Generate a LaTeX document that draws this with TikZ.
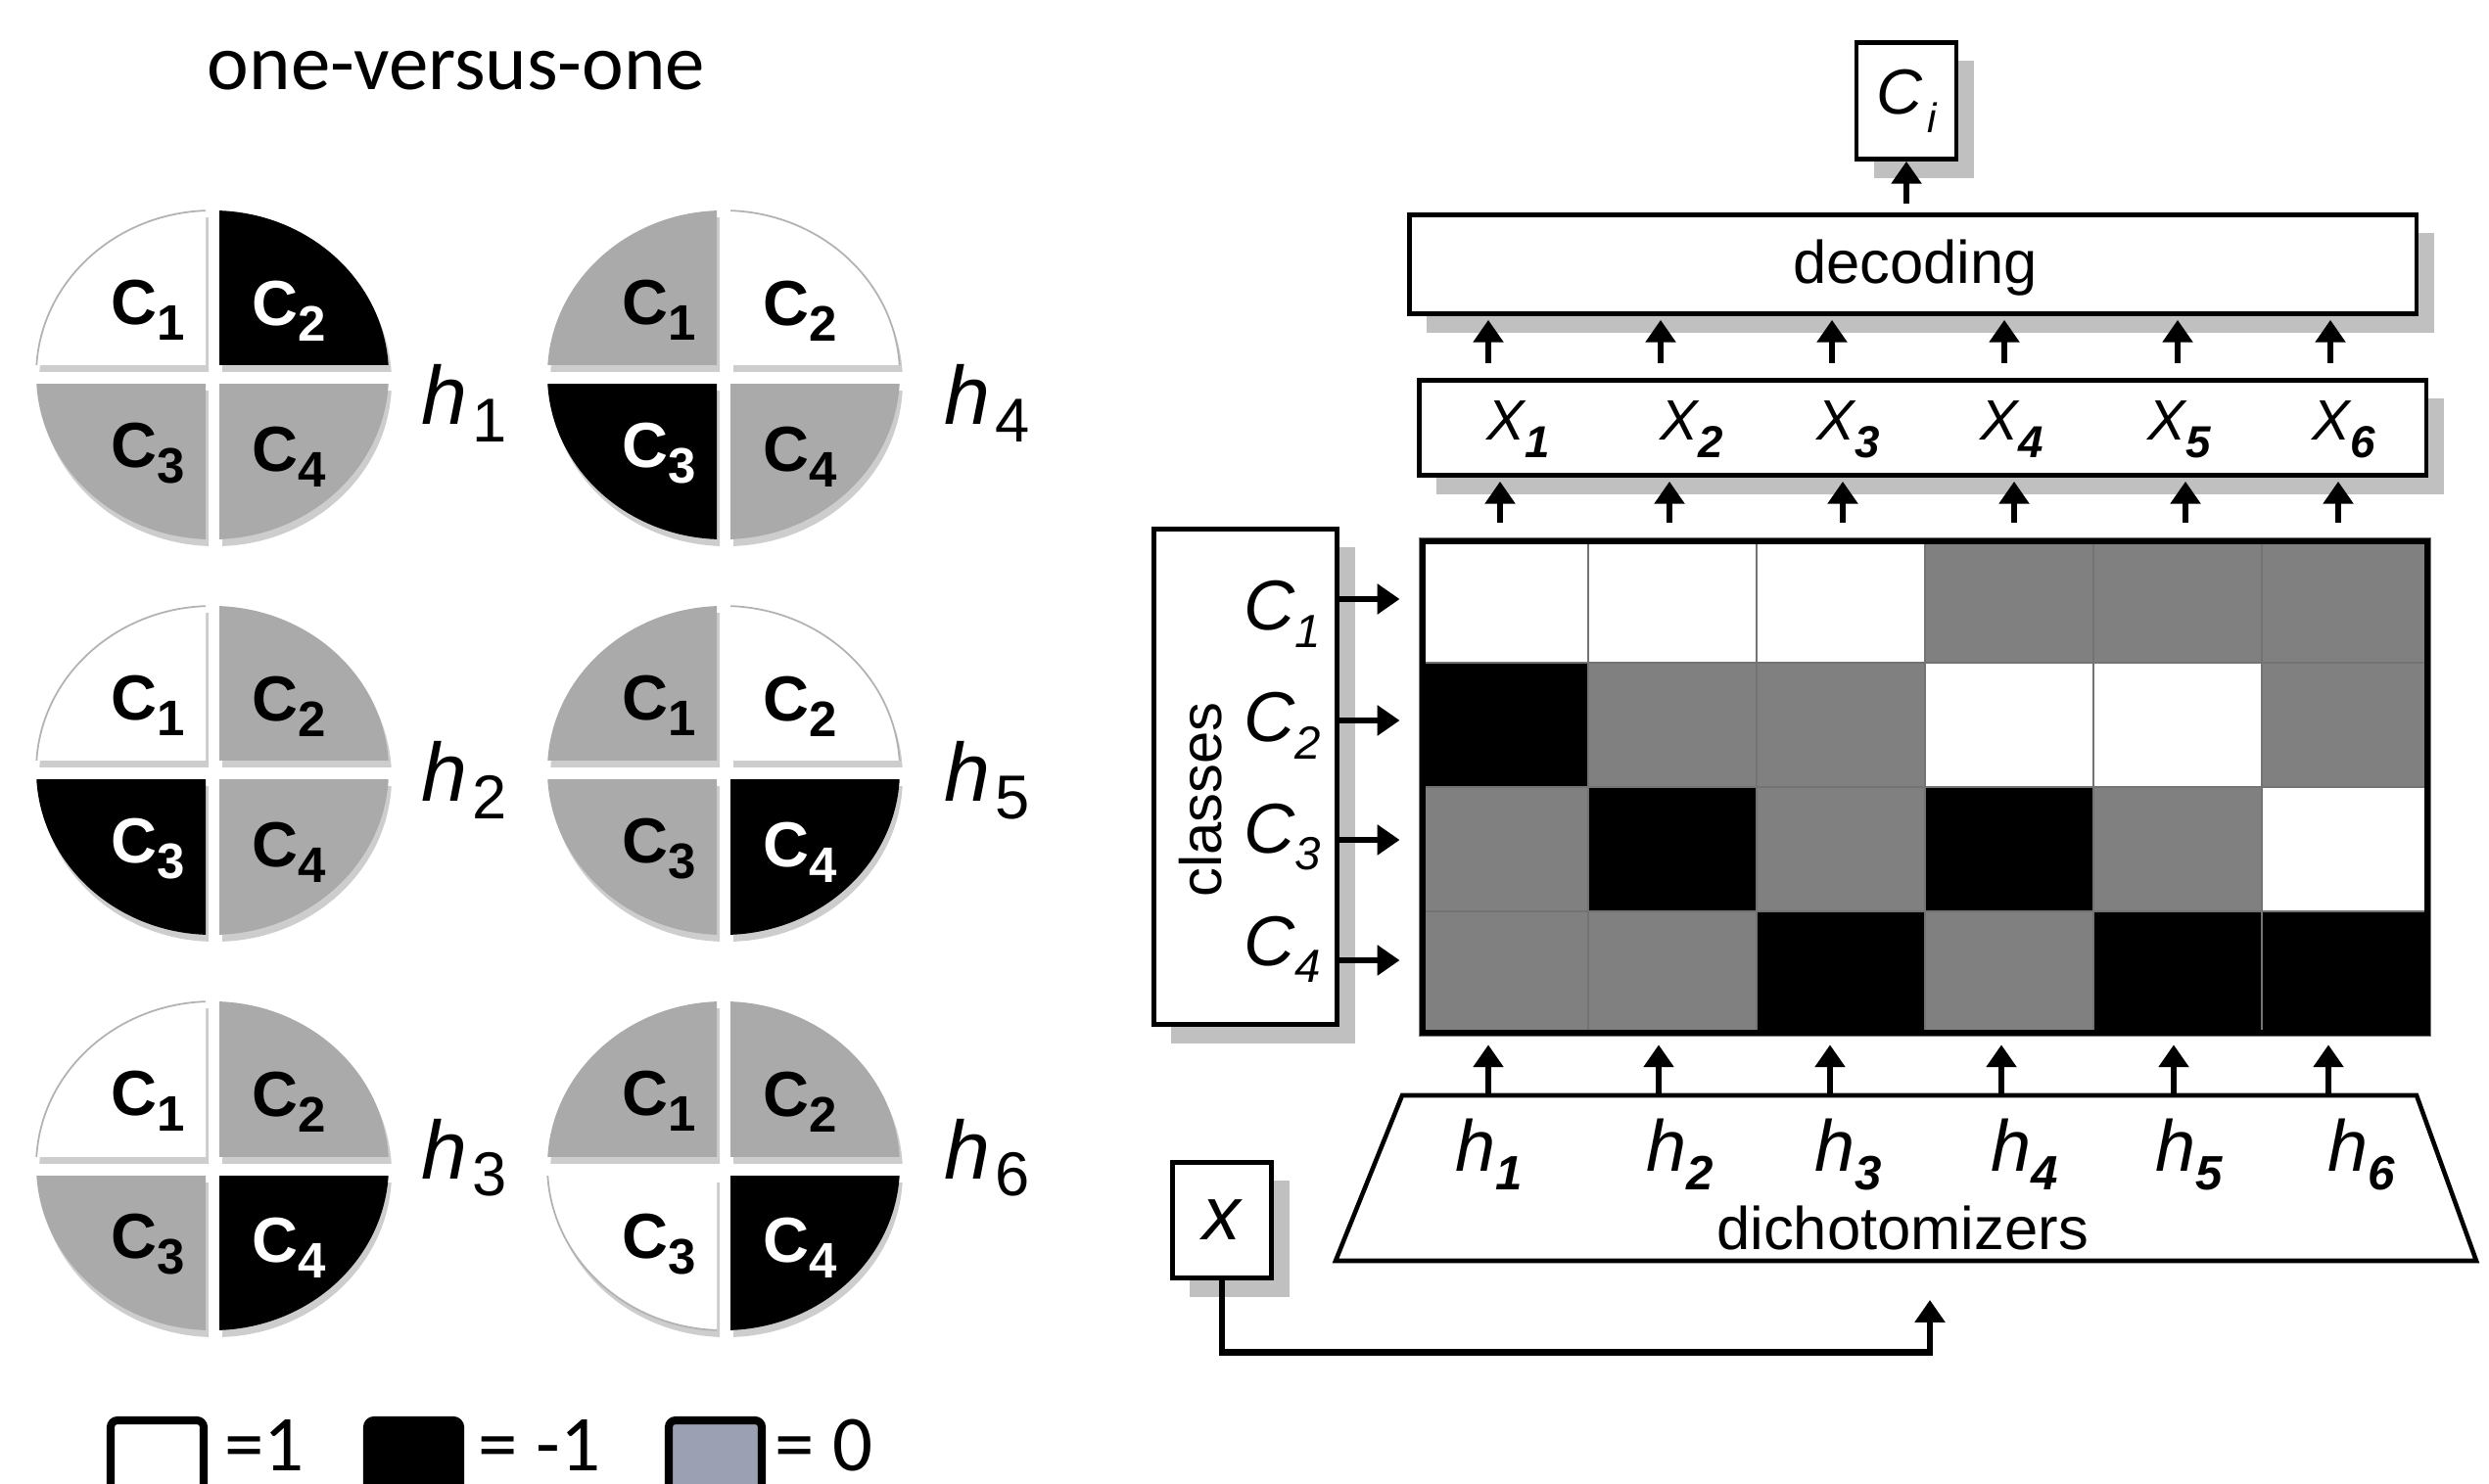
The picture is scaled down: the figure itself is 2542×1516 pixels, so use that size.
\documentclass[tikz,border=0pt]{standalone}
\usepackage{fontspec}
\setmainfont{Liberation Sans}
\newfontfamily\carl{Carlito}
\usetikzlibrary{arrows.meta,shadows}
\definecolor{cg}{RGB}{170,170,170}
\definecolor{mg}{RGB}{128,128,128}
\definecolor{lgc}{RGB}{155,160,178}
\definecolor{shc}{RGB}{192,192,192}
\definecolor{qsh}{RGB}{205,205,205}

% one quadrant: centre x, centre y, sign x, sign y, style
\newcommand\qd[5]{%
  \pgfmathsetmacro\qxa{#1+(#3)*7}%
  \pgfmathsetmacro\qya{#2+(#4)*10}%
  \pgfmathsetmacro\qxb{#1+(#3)*200}%
  \pgfmathsetmacro\qyb{#2+(#4)*200}%
  \begin{scope}[shift={(3,7)}]
    \clip (\qxa,\qya) rectangle (\qxb,\qyb);
    \fill[qsh] (#1,#2) ellipse [x radius=180, y radius=168];
  \end{scope}
  \begin{scope}
    \clip (\qxa,\qya) rectangle (\qxb,\qyb);
    \path[#5] (#1,#2) ellipse [x radius=180, y radius=168];
  \end{scope}}
\newcommand\csub[1]{\raisebox{-4.5pt}{\fontsize{14.5}{14.5}\selectfont #1}}
\newcommand\hsub[1]{\kern1.5pt\raisebox{-5pt}{\upshape\fontsize{18}{18}\selectfont #1}}
\newcommand\rsub[3]{\raisebox{-#1}{\fontsize{#2}{#2}\selectfont #3}}
% cx cy q1 q2 q3 q4 k hoffset hbaseline
\newcommand\ovo[9]{%
  \qd{#1}{#2}{-1}{-1}{q#3}\qd{#1}{#2}{1}{-1}{q#4}%
  \qd{#1}{#2}{-1}{1}{q#5}\qd{#1}{#2}{1}{1}{q#6}%
  \node[cq,t#3] (h#7a) at ({#1-66},{#2-66}) {C\csub{1}};
  \node[cq,t#4] (h#7b) at ({#1+78},{#2-65}) {C\csub{2}};
  \node[cq,t#5] (h#7c) at ({#1-66},{#2+80}) {C\csub{3}};
  \node[cq,t#6] (h#7d) at ({#1+78},{#2+84}) {C\csub{4}};
  \node[hq] (h#7l) at ({#1+#8},#9) {h\hsub{#7}};}

\begin{document}
\begin{tikzpicture}[x=0.01cm,y=-0.01cm,
  qW/.style={fill=white,draw=black!30,line width=0.5pt},
  qB/.style={fill=black},
  qG/.style={fill=cg},
  tW/.style={text=black}, tB/.style={text=white}, tG/.style={text=black},
  mW/.style={fill=white}, mB/.style={fill=black}, mG/.style={fill=mg},
  cq/.style={inner sep=0pt,anchor=center,font=\fontsize{18.5}{20}\selectfont\bfseries},
  hq/.style={inner sep=0pt,anchor=base west,font=\fontsize{24}{26}\selectfont\itshape},
  box/.style={draw,line width=1.3pt,fill=white,inner sep=0pt,
    drop shadow={shadow xshift=1.8mm,shadow yshift=-1.9mm,fill=shc,opacity=1}},
  arr/.style={-{Triangle[length=6.5pt,width=8.5pt]},line width=1.9pt},
  lab/.style={inner sep=0pt,font=\fontsize{17.5}{19}\selectfont},
  legbox/.style={draw,line width=2.3pt,rounded corners=2pt,inner sep=0pt,
    minimum width=9.5mm,minimum height=12mm},
  legtxt/.style={inner sep=0pt,anchor=base west,font=\carl\fontsize{23}{24}\selectfont}]
\useasboundingbox (0,0) rectangle (2542,1516);

% ---------------- left panel ----------------
\node[inner sep=0pt,anchor=base,font=\carl\fontsize{23}{25}\selectfont] (title) at (466,92) {one-versus-one};

\ovo{217}{383}{W}{B}{G}{G}{1}{213}{434}
\ovo{217}{787}{W}{G}{B}{G}{2}{213}{819}
\ovo{217}{1191}{W}{G}{G}{B}{3}{213}{1204}
\ovo{739}{383}{G}{W}{B}{G}{4}{225}{434}
\ovo{739}{787}{G}{W}{G}{B}{5}{225}{819}
\ovo{739}{1191}{G}{G}{W}{B}{6}{225}{1204}

% legend
\node[legbox,fill=white] (lw) at (160.5,1511) {};
\node[legbox,fill=black] (lb) at (422.5,1511) {};
\node[legbox,fill=lgc] (lg) at (730.5,1511) {};
\node[legtxt] (lwt) at (229,1502) {=1};
\node[legtxt] (lbt) at (488,1502) {= -1};
\node[legtxt] (lgt) at (791,1502) {= 0};

% ---------------- right panel ----------------
% matrix cells
\foreach \r/\row in {0/{W,W,W,G,G,G},1/{B,G,G,W,W,G},2/{G,B,G,B,G,W},3/{G,G,B,G,B,B}}{
  \foreach \v [count=\c from 0] in \row {
    \pgfmathsetmacro\xa{1450+172*\c}
    \pgfmathsetmacro\ya{550+127*\r}
    \path[m\v,draw=black!55,line width=0.6pt] (\xa,\ya) rectangle ++(172,127);
  }}
\node[draw,line width=1.8pt,inner sep=0pt,minimum width=102.6mm,minimum height=50.2mm] (mat) at (1966,804) {};

% boxes
\node[box,minimum width=10.2mm,minimum height=11.9mm] (ci) at (1947,103)
  {\fontsize{18.5}{20}\selectfont\itshape C\kern1.5pt\rsub{5.5pt}{12}{i}};
\node[box,minimum width=102.8mm,minimum height=10.1mm] (dec) at (1953.5,270) {};
\node[lab,anchor=base] (dect) at (1956,290) {decoding};
\node[box,minimum width=102.8mm,minimum height=9.7mm] (xb) at (1963.5,437) {};
\foreach \k/\x in {1/1551,2/1728,3/1888,4/2055,5/2226,6/2394}
  \node[inner sep=0pt,anchor=base,font=\fontsize{16.5}{18}\selectfont\itshape] (X\k) at (\x,450)
    {X\rsub{5pt}{13}{\bfseries\k}};
\node[box,minimum width=18.7mm,minimum height=50.6mm] (cls) at (1272,793.5) {};
\node[lab,rotate=90,font=\fontsize{17}{17}\selectfont] (clst) at (1226,817) {classes};
\foreach \k/\y in {1/644,2/758,3/871,4/986}
  \node[inner sep=0pt,anchor=base east,font=\fontsize{20.5}{20.5}\selectfont\itshape] (C\k) at (1350,\y)
    {C\rsub{5pt}{13.5}{\k}};

% dichotomizers trapezoid
\coordinate (tTL) at (1432,1119);
\coordinate (tTR) at (2468,1119);
\coordinate (tBR) at (2529,1288);
\coordinate (tBL) at (1364,1288);
\fill[shc,shift={(18,20)}] (tTL) -- (tTR) -- (tBR) -- (tBL) -- cycle;
\draw[line width=1.3pt,fill=white] (tTL) -- (tTR) -- (tBR) -- (tBL) -- cycle;
\foreach \k/\x in {1/1521,2/1716,3/1888,4/2068,5/2236,6/2412}
  \node[inner sep=0pt,anchor=base,font=\fontsize{21}{23}\selectfont\itshape] (hd\k) at (\x,1196)
    {h\rsub{5.5pt}{14}{\bfseries\k}};
\node[lab,anchor=base] (dich) at (1943,1276) {dichotomizers};

\node[box,minimum width=10.1mm,minimum height=11.8mm,font=\fontsize{22}{24}\selectfont\itshape] (xin) at (1248,1246.5) {x};
\coordinate (xend) at (1971,1328);

% connectors
\draw[arr,shorten <=0.9mm] (dec.north -| ci.south) -- (ci.south);
\foreach \x in {1520,1696,1871,2047,2224,2380}
  \draw[arr,shorten <=1.5mm,shorten >=0.4mm] (xb.north -| \x,0) -- (dec.south -| \x,0);
\foreach \x in {1532,1705,1882,2057,2232,2388}
  \draw[arr,shorten <=1.6mm,shorten >=0.4mm] (mat.north -| \x,0) -- (xb.south -| \x,0);
\foreach \x in {1520,1694,1869,2044,2220,2378}
  \draw[arr,shorten >=0.9mm] (tTL -| \x,0) -- (mat.south -| \x,0);
\foreach \y in {612,736,858,981}
  \draw[arr,shorten >=2mm] (cls.east |- 0,\y) -- (mat.west |- 0,\y);
\draw[arr] (xin.south) -- ++(0,74) -| (xend);
\end{tikzpicture}
\end{document}
